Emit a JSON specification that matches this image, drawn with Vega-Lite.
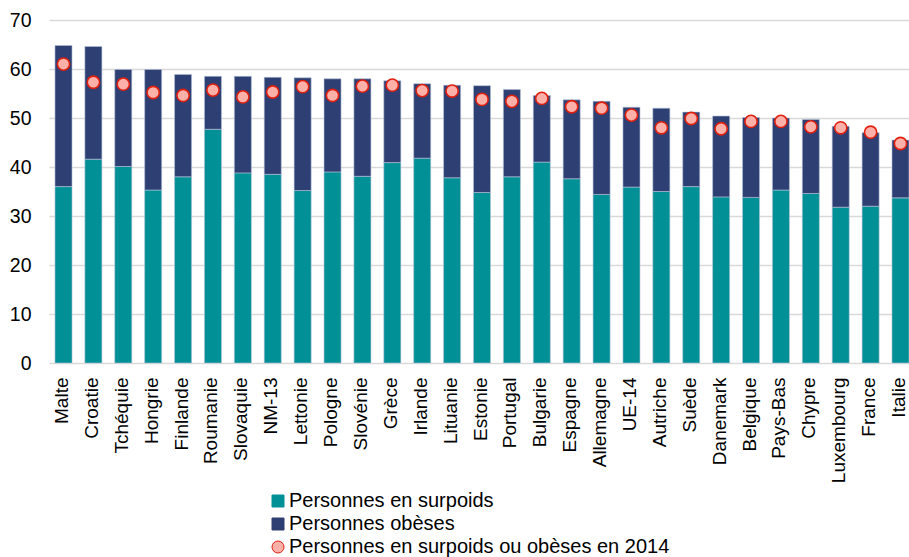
{
  "$schema": "https://vega.github.io/schema/vega-lite/v6.json",
  "autosize": {"type": "none"},
  "width": 860,
  "height": 343,
  "padding": {"left": 49, "top": 20, "right": 0, "bottom": 194},
  "background": "white",
  "config": {
    "view": {"stroke": null},
    "font": "Liberation Sans",
    "axis": {"labelFont": "Liberation Sans", "labelColor": "#000000"}
  },
  "data": {
    "values": [
      {"pays": "Malte", "Personnes en surpoids": 36.0, "Personnes obèses": 28.8, "Personnes en surpoids ou obèses en 2014": 61.0},
      {"pays": "Croatie", "Personnes en surpoids": 41.6, "Personnes obèses": 23.0, "Personnes en surpoids ou obèses en 2014": 57.3},
      {"pays": "Tchéquie", "Personnes en surpoids": 40.1, "Personnes obèses": 19.8, "Personnes en surpoids ou obèses en 2014": 56.9},
      {"pays": "Hongrie", "Personnes en surpoids": 35.3, "Personnes obèses": 24.6, "Personnes en surpoids ou obèses en 2014": 55.2},
      {"pays": "Finlande", "Personnes en surpoids": 38.0, "Personnes obèses": 20.9, "Personnes en surpoids ou obèses en 2014": 54.6},
      {"pays": "Roumanie", "Personnes en surpoids": 47.7, "Personnes obèses": 10.8, "Personnes en surpoids ou obèses en 2014": 55.7},
      {"pays": "Slovaquie", "Personnes en surpoids": 38.8, "Personnes obèses": 19.7, "Personnes en surpoids ou obèses en 2014": 54.3},
      {"pays": "NM-13", "Personnes en surpoids": 38.5, "Personnes obèses": 19.8, "Personnes en surpoids ou obèses en 2014": 55.3},
      {"pays": "Lettonie", "Personnes en surpoids": 35.2, "Personnes obèses": 23.0, "Personnes en surpoids ou obèses en 2014": 56.4},
      {"pays": "Pologne", "Personnes en surpoids": 39.0, "Personnes obèses": 19.0, "Personnes en surpoids ou obèses en 2014": 54.6},
      {"pays": "Slovénie", "Personnes en surpoids": 38.1, "Personnes obèses": 19.9, "Personnes en surpoids ou obèses en 2014": 56.5},
      {"pays": "Grèce", "Personnes en surpoids": 40.9, "Personnes obèses": 16.7, "Personnes en surpoids ou obèses en 2014": 56.7},
      {"pays": "Irlande", "Personnes en surpoids": 41.8, "Personnes obèses": 15.2, "Personnes en surpoids ou obèses en 2014": 55.6},
      {"pays": "Lituanie", "Personnes en surpoids": 37.8, "Personnes obèses": 18.9, "Personnes en surpoids ou obèses en 2014": 55.5},
      {"pays": "Estonie", "Personnes en surpoids": 34.8, "Personnes obèses": 21.8, "Personnes en surpoids ou obèses en 2014": 53.8},
      {"pays": "Portugal", "Personnes en surpoids": 38.0, "Personnes obèses": 17.8, "Personnes en surpoids ou obèses en 2014": 53.4},
      {"pays": "Bulgarie", "Personnes en surpoids": 41.0, "Personnes obèses": 13.6, "Personnes en surpoids ou obèses en 2014": 54.0},
      {"pays": "Espagne", "Personnes en surpoids": 37.6, "Personnes obèses": 16.1, "Personnes en surpoids ou obèses en 2014": 52.3},
      {"pays": "Allemagne", "Personnes en surpoids": 34.4, "Personnes obèses": 19.0, "Personnes en surpoids ou obèses en 2014": 52.0},
      {"pays": "UE-14", "Personnes en surpoids": 35.9, "Personnes obèses": 16.3, "Personnes en surpoids ou obèses en 2014": 50.6},
      {"pays": "Autriche", "Personnes en surpoids": 35.0, "Personnes obèses": 17.0, "Personnes en surpoids ou obèses en 2014": 48.0},
      {"pays": "Suède", "Personnes en surpoids": 36.0, "Personnes obèses": 15.2, "Personnes en surpoids ou obèses en 2014": 49.9},
      {"pays": "Danemark", "Personnes en surpoids": 33.9, "Personnes obèses": 16.5, "Personnes en surpoids ou obèses en 2014": 47.8},
      {"pays": "Belgique", "Personnes en surpoids": 33.8, "Personnes obèses": 16.3, "Personnes en surpoids ou obèses en 2014": 49.3},
      {"pays": "Pays-Bas", "Personnes en surpoids": 35.3, "Personnes obèses": 14.7, "Personnes en surpoids ou obèses en 2014": 49.3},
      {"pays": "Chypre", "Personnes en surpoids": 34.6, "Personnes obèses": 15.1, "Personnes en surpoids ou obèses en 2014": 48.2},
      {"pays": "Luxembourg", "Personnes en surpoids": 31.8, "Personnes obèses": 16.5, "Personnes en surpoids ou obèses en 2014": 48.0},
      {"pays": "France", "Personnes en surpoids": 32.0, "Personnes obèses": 15.0, "Personnes en surpoids ou obèses en 2014": 47.1},
      {"pays": "Italie", "Personnes en surpoids": 33.7, "Personnes obèses": 11.8, "Personnes en surpoids ou obèses en 2014": 44.8}
    ]
  },
  "encoding": {
    "x": {
      "field": "pays",
      "type": "nominal",
      "sort": null,
      "scale": {"range": [0, 866], "paddingInner": 0.43, "paddingOuter": 0.2},
      "axis": {
        "title": null,
        "labelAngle": -90,
        "labelFontSize": 19,
        "labelPadding": 14,
        "labelOffset": -1.5,
        "labelLimit": 0,
        "ticks": false,
        "domain": false,
        "grid": false
      }
    }
  },
  "layer": [
    {
      "transform": [{"fold": ["Personnes en surpoids", "Personnes obèses"], "as": ["serie", "valeur"]}],
      "mark": {"type": "bar", "stroke": "#b6c2d8", "strokeWidth": 0.6},
      "encoding": {
        "y": {
          "field": "valeur",
          "type": "quantitative",
          "stack": "zero",
          "scale": {"domain": [0, 70]},
          "axis": {
            "title": null,
            "values": [0, 10, 20, 30, 40, 50, 60, 70],
            "labelFontSize": 19.5,
            "labelPadding": 18,
            "ticks": false,
            "domain": false,
            "gridColor": "#d9d9d9",
            "gridWidth": 1.5
          }
        },
        "fill": {
          "field": "serie",
          "type": "nominal",
          "scale": {
            "domain": ["Personnes en surpoids", "Personnes obèses", "Personnes en surpoids ou obèses en 2014"],
            "range": ["#009096", "#2E3F73", "#FFB0A8"]
          },
          "legend": {
            "title": null,
            "orient": "none",
            "legendX": 219,
            "legendY": 471,
            "direction": "vertical",
            "labelFont": "Liberation Sans",
            "labelFontSize": 20,
            "labelColor": "#000000",
            "labelLimit": 0,
            "symbolSize": 144,
            "symbolStrokeWidth": 1,
            "labelOffset": 1,
            "rowPadding": 3
          }
        },
        "order": {"field": "serie", "type": "nominal", "sort": "ascending"}
      }
    },
    {
      "transform": [{"fold": ["Personnes en surpoids ou obèses en 2014"], "as": ["serie", "valeur"]}],
      "mark": {"type": "point", "filled": true, "opacity": 1, "size": 150, "strokeWidth": 1.6},
      "encoding": {
        "y": {"field": "valeur", "type": "quantitative"},
        "fill": {"field": "serie", "type": "nominal"},
        "stroke": {
          "field": "serie",
          "type": "nominal",
          "scale": {
            "domain": ["Personnes en surpoids", "Personnes obèses", "Personnes en surpoids ou obèses en 2014"],
            "range": ["#009096", "#2E3F73", "#E0200F"]
          }
        },
        "shape": {
          "field": "serie",
          "type": "nominal",
          "scale": {
            "domain": ["Personnes en surpoids", "Personnes obèses", "Personnes en surpoids ou obèses en 2014"],
            "range": ["square", "square", "circle"]
          }
        }
      }
    }
  ]
}
